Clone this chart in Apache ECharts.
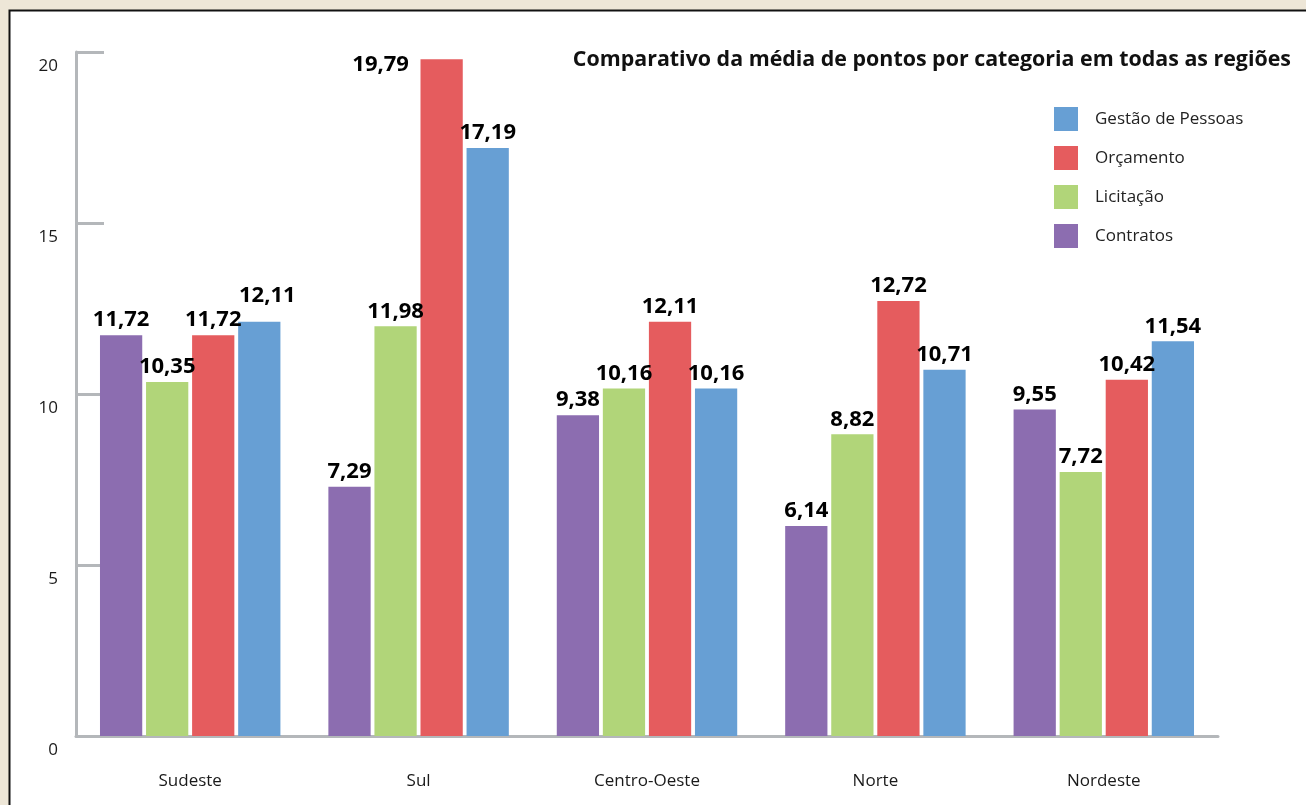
<!DOCTYPE html>
<html><head><meta charset="utf-8">
<script src="https://cdn.jsdelivr.net/npm/echarts@6/dist/echarts.min.js"></script>
<style>html,body{margin:0;padding:0;background:#ede6d7;}#c{width:1306px;height:805px;}</style>
</head><body><div id="c"></div>
<script>
const categories = ['Sudeste', 'Sul', 'Centro-Oeste', 'Norte', 'Nordeste'];
const contratos = [11.72, 7.29, 9.38, 6.14, 9.55];
const licitacao = [10.35, 11.98, 10.16, 8.82, 7.72];
const orcamento = [11.72, 19.79, 12.11, 12.72, 10.42];
const gestao = [12.11, 17.19, 10.16, 10.71, 11.54];
const seriesNames = ['Contratos', 'Licitação', 'Orçamento', 'Gestão de Pessoas'];
const seriesData = [contratos, licitacao, orcamento, gestao];
const colors = ['#8c6db0', '#b1d579', '#e55c5e', '#679fd4'];
const titleText = 'Comparativo da média de pontos por categoria em todas as regiões';

const font = 'Open Sans';
const chart = echarts.init(document.getElementById('c'), null, {renderer: 'canvas'});
function buildData(d, si) {
  return d.map((v, ci) => {
    // a few labels are nudged in the reference to avoid collisions
    if (si === 2 && ci === 1) return {value: v, label: {offset: [-61, 21]}};
    if (si === 3 && ci === 0) return {value: v, label: {offset: [8, -11]}};
    return v;
  });
}
chart.setOption({
  animation: false,
  backgroundColor: '#ede6d7',
  textStyle: {fontFamily: font},
  graphic: [{type: 'rect', z: -10, shape: {x: 9.5, y: 10.5, width: 1400, height: 900},
    style: {fill: '#ffffff', stroke: '#111111', lineWidth: 2}}],
  title: {text: titleText, right: 15, top: 49, padding: 0,
    textStyle: {fontFamily: font, fontWeight: 'bold', fontSize: 21.4, color: '#111'}},
  legend: {orient: 'vertical', left: 1054, top: 107, padding: 0, itemWidth: 24, itemHeight: 24, itemGap: 15,
    icon: 'rect', data: seriesNames.slice().reverse(),
    textStyle: {fontFamily: font, fontSize: 17, color: '#222', padding: [0, 0, 0, 12]}},
  grid: {left: 76, right: 88, top: 52, bottom: 69, containLabel: false},
  xAxis: {type: 'category', data: categories,
    axisLine: {lineStyle: {color: '#b4b7ba', width: 3}},
    axisTick: {inside: true, length: 18, lineStyle: {color: '#b4b7ba', width: 3}},
    axisLabel: {margin: 37, fontSize: 17, color: '#1a1a1a', fontFamily: font}},
  yAxis: {type: 'value', min: 0, max: 20, interval: 5,
    axisLine: {show: true, lineStyle: {color: '#b4b7ba', width: 3}},
    axisTick: {show: true, inside: true, length: 28, lineStyle: {color: '#b4b7ba', width: 3}},
    splitLine: {show: false},
    axisLabel: {margin: 18, fontSize: 17, color: '#1a1a1a', fontFamily: font, verticalAlign: 'top', lineHeight: 28}},
  series: seriesData.map((d, i) => ({
    name: seriesNames[i], type: 'bar', data: buildData(d, i), barGap: '9%', barCategoryGap: '21%',
    itemStyle: {color: colors[i]},
    label: {show: true, position: 'top', distance: 4, fontFamily: font, fontWeight: 'bold', fontSize: 22, color: '#000',
      formatter: p => p.value.toFixed(2).replace('.', ',')}
  }))
});
</script></body></html>
